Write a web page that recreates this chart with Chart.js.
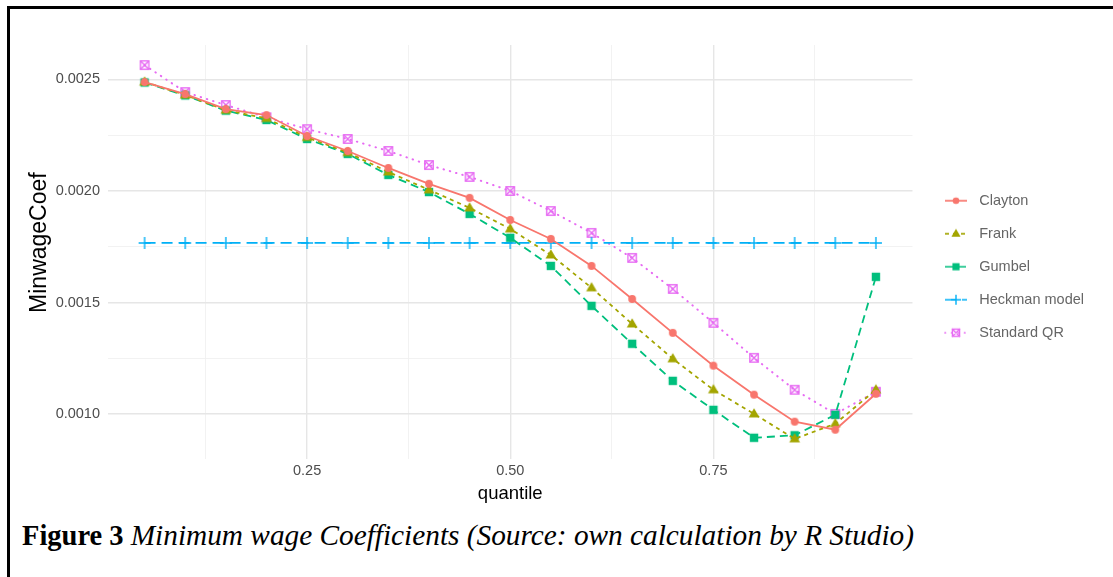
<!DOCTYPE html>
<html>
<head>
<meta charset="utf-8">
<script src="https://cdn.jsdelivr.net/npm/chart.js"></script>
<style>
  html, body { margin: 0; padding: 0; background: #fff; width: 1113px; height: 577px; overflow: hidden; }
  #wrap { position: absolute; left: 0; top: 0; width: 1113px; height: 515px; }
  .frame { position: absolute; background: #000; }
  #caption {
    position: absolute; left: 22px; top: 521px; white-space: nowrap;
    font-family: "Liberation Serif", "Times New Roman", serif; font-size: 28.5px; line-height: 1; color: #000;
  }
  #caption i { font-size: 29.3px; }
</style>
</head>
<body>
<div id="wrap"><canvas id="coefChart"></canvas></div>
<div class="frame" style="left:7px; top:6px; width:1106px; height:3px;"></div>
<div class="frame" style="left:7px; top:6px; width:3px; height:571px;"></div>
<div id="caption"><b>Figure 3</b> <i>Minimum wage Coefficients (Source: own calculation by R Studio)</i></div>
<script>
var quantiles = [0.05, 0.10, 0.15, 0.20, 0.25, 0.30, 0.35, 0.40, 0.45, 0.50,
                 0.55, 0.60, 0.65, 0.70, 0.75, 0.80, 0.85, 0.90, 0.95];
var clayton = [0.002488, 0.002434, 0.002367, 0.002340, 0.002246, 0.002179, 0.002103, 0.002032, 0.001969, 0.001870,
               0.001785, 0.001664, 0.001516, 0.001364, 0.001217, 0.001087, 0.000966, 0.000930, 0.001091];
var frank = [0.002488, 0.002430, 0.002362, 0.002325, 0.002240, 0.002172, 0.002085, 0.002005, 0.001924, 0.001830,
             0.001713, 0.001566, 0.001404, 0.001248, 0.001109, 0.001001, 0.000889, 0.000957, 0.001109];
var gumbel = [0.002486, 0.002428, 0.002360, 0.002318, 0.002233, 0.002166, 0.002072, 0.001995, 0.001897, 0.001790,
              0.001664, 0.001485, 0.001315, 0.001149, 0.001019, 0.000894, 0.000905, 0.000997, 0.001615];
var heckman = [0.001767, 0.001767, 0.001767, 0.001767, 0.001767, 0.001767, 0.001767, 0.001767, 0.001767, 0.001767,
               0.001767, 0.001767, 0.001767, 0.001767, 0.001767, 0.001767, 0.001767, 0.001767, 0.001767];
var standardQR = [0.002564, 0.002443, 0.002385, 0.002330, 0.002277, 0.002233, 0.002179, 0.002116, 0.002063, 0.002000,
                  0.001910, 0.001812, 0.001700, 0.001561, 0.001409, 0.001252, 0.001109, 0.001001, 0.001100];

var seriesNames = ['Clayton', 'Frank', 'Gumbel', 'Heckman model', 'Standard QR'];
var seriesColors = ['#F8766D', '#A3A500', '#00BF7D', '#00B0F6', '#E76BF3'];
var xGrid = [0.125, 0.25, 0.375, 0.5, 0.625, 0.75, 0.875];
var yGrid = [0.001, 0.00125, 0.0015, 0.00175, 0.002, 0.00225, 0.0025];

var shapes = ['circle', 'triangle', 'square', 'plus', 'squareX'];
var dashes = [[], [4, 4], [8, 5], [11, 6], [0.5, 6]];

function drawMarker(ctx, shape, color, cx, cy, s) {
  ctx.fillStyle = color;
  ctx.strokeStyle = color;
  ctx.setLineDash([]);
  if (shape === 'circle') {
    ctx.beginPath(); ctx.arc(cx, cy, 3.9 * s, 0, Math.PI * 2); ctx.fill();
  } else if (shape === 'triangle') {
    ctx.beginPath();
    ctx.moveTo(cx, cy - 5.8 * s);
    ctx.lineTo(cx - 5.4 * s, cy + 3.5 * s);
    ctx.lineTo(cx + 5.4 * s, cy + 3.5 * s);
    ctx.closePath(); ctx.fill();
  } else if (shape === 'square') {
    ctx.fillRect(cx - 4.2 * s, cy - 4.2 * s, 8.4 * s, 8.4 * s);
  } else if (shape === 'plus') {
    ctx.lineWidth = 1.4;
    ctx.beginPath();
    ctx.moveTo(cx - 6 * s, cy); ctx.lineTo(cx + 6 * s, cy);
    ctx.moveTo(cx, cy - 6 * s); ctx.lineTo(cx, cy + 6 * s);
    ctx.stroke();
  } else {
    ctx.lineWidth = 1.4;
    ctx.strokeRect(cx - 4.2 * s, cy - 4.2 * s, 8.4 * s, 8.4 * s);
    ctx.beginPath();
    ctx.moveTo(cx - 4.2 * s, cy - 4.2 * s); ctx.lineTo(cx + 4.2 * s, cy + 4.2 * s);
    ctx.moveTo(cx + 4.2 * s, cy - 4.2 * s); ctx.lineTo(cx - 4.2 * s, cy + 4.2 * s);
    ctx.stroke();
  }
}

function markerImage(i) {
  var c = document.createElement('canvas');
  c.width = 16; c.height = 16;
  drawMarker(c.getContext('2d'), shapes[i], seriesColors[i], 8, 8, 1);
  return c;
}

// legend key: dashed segment with the marker in the middle, padded on the left
function legendImage(i) {
  var c = document.createElement('canvas');
  c.width = 41; c.height = 14;
  var ctx = c.getContext('2d');
  ctx.strokeStyle = seriesColors[i];
  ctx.lineWidth = 1.7;
  ctx.lineCap = i === 4 ? 'round' : 'butt';
  ctx.setLineDash(dashes[i]);
  ctx.beginPath(); ctx.moveTo(14, 7); ctx.lineTo(36, 7); ctx.stroke();
  drawMarker(ctx, shapes[i], seriesColors[i], 25, 7, 0.85);
  return c;
}

var seriesValues = [clayton, frank, gumbel, heckman, standardQR];
var datasets = seriesNames.map(function (name, i) {
  return {
    label: name,
    data: quantiles.map(function (q, k) { return { x: q, y: seriesValues[i][k] }; }),
    borderColor: seriesColors[i],
    backgroundColor: seriesColors[i],
    borderWidth: i === 4 ? 2 : 1.8,
    borderDash: dashes[i],
    borderCapStyle: i === 4 ? 'round' : 'butt',
    pointStyle: markerImage(i),
    pointRadius: 5,
    pointHoverRadius: 5,
    tension: 0,
    fill: false
  };
});

function isMajor(v, step) {
  return Math.abs(v / step - Math.round(v / step)) < 1e-6;
}

var config = {
  type: 'line',
  data: { datasets: datasets },
  options: {
    responsive: true,
    maintainAspectRatio: false,
    animation: false,
    layout: { padding: { left: 23, top: 45, right: 19, bottom: 6 } },
    plugins: {
      tooltip: { enabled: false },
      legend: {
        position: 'right',
        align: 'start',
        // empty title only used as a spacer above the keys
        title: { display: true, text: ' ', font: { size: 10 }, padding: { top: 0, bottom: 118 } },
        labels: {
          usePointStyle: true,
          pointStyleWidth: 41,
          padding: 18.5,
          color: '#000',
          font: { family: 'Liberation Sans, Arial, sans-serif', size: 14.5 },
          generateLabels: function (chart) {
            return chart.data.datasets.map(function (ds, i) {
              return { text: ds.label, pointStyle: legendImage(i), datasetIndex: i, hidden: false,
                       fillStyle: ds.borderColor, strokeStyle: ds.borderColor, lineWidth: 0 };
            });
          }
        }
      }
    },
    scales: {
      x: {
        type: 'linear',
        min: 0.005,
        max: 0.995,
        afterBuildTicks: function (axis) { axis.ticks = xGrid.map(function (v) { return { value: v }; }); },
        border: { display: false },
        grid: {
          drawTicks: false,
          color: function (c) { return isMajor(c.tick.value, 0.25) ? '#e6e6e6' : '#f0f0f0'; },
          lineWidth: function (c) { return isMajor(c.tick.value, 0.25) ? 1.4 : 0.9; }
        },
        ticks: {
          padding: 3,
          color: '#4d4d4d',
          maxRotation: 0,
          font: { family: 'Liberation Sans, Arial, sans-serif', size: 14.5 },
          callback: function (v) { return isMajor(v, 0.25) ? v.toFixed(2) : ''; }
        },
        title: {
          display: true,
          text: 'quantile',
          color: '#000',
          padding: { top: 0, bottom: 4 },
          font: { family: 'Liberation Sans, Arial, sans-serif', size: 18.5 }
        }
      },
      y: {
        min: 0.000797,
        max: 0.002654,
        afterBuildTicks: function (axis) { axis.ticks = yGrid.map(function (v) { return { value: v }; }); },
        afterFit: function (scale) { scale.width = 85; },
        border: { display: false },
        grid: {
          drawTicks: false,
          color: function (c) { return isMajor(c.tick.value, 0.0005) ? '#e6e6e6' : '#f0f0f0'; },
          lineWidth: function (c) { return isMajor(c.tick.value, 0.0005) ? 1.4 : 0.9; }
        },
        ticks: {
          padding: 8,
          color: '#4d4d4d',
          font: { family: 'Liberation Sans, Arial, sans-serif', size: 14.5 },
          callback: function (v) { return isMajor(v, 0.0005) ? v.toFixed(4) : ''; }
        },
        title: {
          display: true,
          text: '   MinwageCoef',
          color: '#000',
          padding: { top: 3, bottom: 3 },
          font: { family: 'Liberation Sans, Arial, sans-serif', size: 23 }
        }
      }
    }
  }
};

var coefChart = new Chart(document.getElementById('coefChart'), config);
</script>
</body>
</html>
